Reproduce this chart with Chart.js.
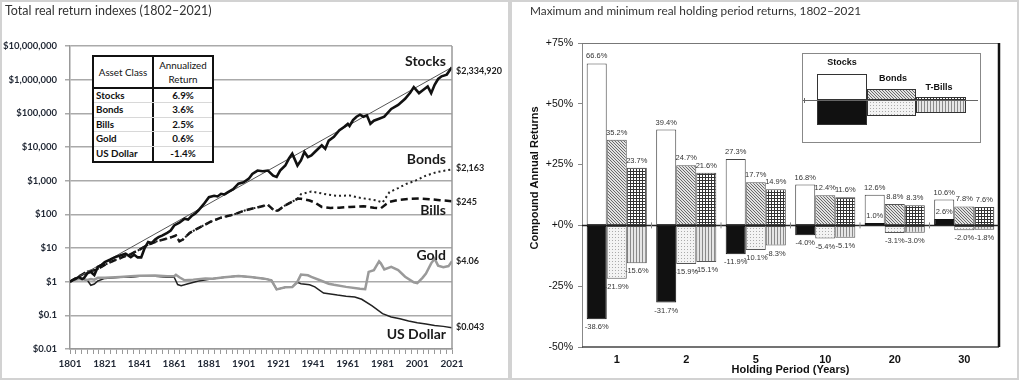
<!DOCTYPE html>
<html><head><meta charset="utf-8">
<script src="https://cdn.jsdelivr.net/npm/chart.js@4.4.1/dist/chart.umd.min.js"></script>
<style>
html,body{margin:0;padding:0;background:#fff;}
body{width:1019px;height:380px;position:relative;overflow:hidden;font-family:Lato,"Liberation Sans",sans-serif;}
.panel{position:absolute;top:0;height:380px;box-sizing:border-box;border:2px solid #d2d2d2;}
#p1{left:0;width:510px;}
#p2{left:510px;width:509px;}
canvas{position:absolute;top:0;}
#c1{left:0;}
#c2{left:510px;}
.title{position:absolute;top:3px;font-size:12.5px;color:#333;white-space:nowrap;}
#t1{left:5px;}
#t2{left:530px;font-size:11.8px;}
#tbl{position:absolute;left:92px;top:55px;width:122px;height:108px;box-sizing:border-box;border:2px solid #111;background:#fff;font-family:Lato,sans-serif;font-size:9.8px;color:#111;}
#tbl .row{display:flex;box-sizing:border-box;height:14.4px;border-bottom:1px solid #d8d8d8;}
#tbl .row:last-child{border-bottom:none;}
#tbl .hdr{height:32px;border-bottom:2px solid #111;}
#tbl .c1{width:60px;box-sizing:border-box;border-right:2px solid #111;padding-left:2px;font-weight:bold;line-height:13.4px;}
#tbl .c2{width:58px;text-align:center;font-weight:bold;line-height:13.4px;}
#tbl .hdr .c1,#tbl .hdr .c2{font-weight:normal;display:flex;align-items:center;justify-content:center;line-height:14px;padding:0;text-align:center;}
</style></head><body>
<div class="panel" id="p1"></div><div class="panel" id="p2"></div>
<canvas id="c1" width="510" height="380"></canvas>
<canvas id="c2" width="509" height="380"></canvas>
<div class="title" id="t1">Total real return indexes (1802–2021)</div>
<div class="title" id="t2">Maximum and minimum real holding period returns, 1802–2021</div>
<div id="tbl"></div>
<script>
// ---------------- Left chart data ----------------
const xTickLabels = ['1801','1821','1841','1861','1881','1901','1921','1941','1961','1981','2001','2021'];
const yTickValues = [0.01,0.1,1,10,100,1000,10000,100000,1000000,10000000];
const yTickLabels = ['$0.01','$0.1','$1','$10','$100','$1,000','$10,000','$100,000','$1,000,000','$10,000,000'];

const stockYears = [1801,1803,1804,1806,1808,1809,1811,1813,1815,1817,1819,1821,1824,1827,1830,1833,1836,1838,1840,1842,1844,1846,1848,1850,1852,1854,1857,1859,1861,1864,1867,1869,1871,1873,1875,1878,1881,1884,1886,1888,1890,1892,1895,1898,1901,1904,1906,1909,1912,1915,1918,1920,1922,1925,1927,1929,1932,1934,1936,1938,1940,1942,1946,1948,1950,1953,1956,1959,1961,1962,1964,1966,1968,1970,1972,1974,1976,1979,1982,1986,1990,1994,1997,1999,2002,2004,2007,2009,2011,2013,2015,2018,2020,2021];
const stockValues = [1,1.15,1.2,1.38,1.2,1.26,1.78,1.95,1.58,2.75,3.1,3.8,4.47,5.37,6.03,6.76,5.37,6.3,5.25,5.25,10,15.1,14,17.8,21,23.4,28.2,33,46.8,56.2,74.1,70,89.1,105,132,200,324,355,340,407,390,457,562,813,891,1148,1585,1995,1905,1995,1413,1288,1995,2818,4467,6310,2818,3981,7079,5012,5623,7079,11220,8913,15490,19950,30900,39810,48980,42000,63100,79430,91200,79430,87100,48980,60260,69180,79430,134900,177800,269200,416900,602600,398100,478600,631000,398100,707900,1047000,1259000,1413000,1995000,2334920];

const trendYears = [1801,2021];
const trendValues = [1,2334920];

const bondYears = [1801,1806,1811,1816,1821,1826,1831,1836,1841,1846,1851,1857,1862,1864,1866,1870,1876,1882,1888,1895,1902,1910,1915,1919,1921,1925,1932,1934,1940,1946,1950,1955,1962,1967,1972,1977,1981,1985,1990,1995,2000,2006,2012,2017,2021];
const bondValues = [1,1.41,2.0,2.24,3.16,4.17,5.25,6.61,8.91,12.6,15.8,19.1,23.4,15.8,17.8,28.2,41.7,60.3,79.4,97.7,132,166,191,123,132,186,288,398,479,417,380,355,363,316,288,263,224,457,603,813,1000,1413,1778,1995,2163];

const billYears = [1801,1806,1811,1816,1821,1826,1831,1836,1841,1846,1851,1857,1862,1864,1866,1870,1876,1882,1888,1895,1902,1910,1915,1919,1921,1925,1932,1934,1939,1942,1946,1951,1956,1962,1970,1976,1980,1983,1985,1990,1997,2002,2008,2014,2021];
const billValues = [1,1.41,2.0,2.24,3.16,4.17,5.25,6.61,8.91,12.6,15.8,19.1,23.4,15.8,17.8,28.2,41.7,60.3,79.4,97.7,132,166,191,123,132,186,288,288,257,224,166,155,158,166,174,158,151,200,234,269,288,295,282,263,245];

const goldYears = [1801,1804,1808,1811,1813,1815,1817,1821,1830,1836,1841,1850,1857,1861,1862,1864,1867,1872,1879,1883,1890,1898,1905,1913,1917,1920,1925,1929,1932,1934,1938,1940,1945,1950,1953,1960,1968,1971,1973,1976,1979,1980,1982,1986,1990,1994,1999,2001,2004,2006,2009,2011,2013,2016,2019,2021];
const goldValues = [1,1.15,1.2,1.12,1.2,1.15,1.3,1.3,1.38,1.45,1.5,1.52,1.45,1.45,1.6,1.35,1.1,1.15,1.25,1.23,1.35,1.48,1.38,1.23,1.1,0.59,0.68,0.69,1.0,1.62,1.55,1.38,1.1,0.87,0.81,0.7,0.62,0.6,1.95,2.2,4.0,3.5,2.3,2.75,2.2,1.4,0.95,0.9,1.3,1.74,3.5,4.8,3.0,2.7,2.9,4.06];

const dollarYears = [1801,1804,1808,1811,1813,1815,1817,1821,1830,1836,1841,1850,1857,1861,1863,1865,1869,1875,1883,1890,1898,1905,1913,1917,1920,1925,1929,1932,1934,1939,1942,1947,1950,1955,1960,1965,1969,1975,1981,1986,1991,1996,2001,2006,2011,2016,2021];
const dollarValues = [1,1.15,1.2,1.1,0.78,0.85,1.05,1.25,1.35,1.35,1.45,1.45,1.35,1.35,0.82,0.76,0.87,1.05,1.23,1.35,1.48,1.38,1.23,1.1,0.59,0.68,0.69,0.95,0.87,0.81,0.7,0.46,0.44,0.4,0.37,0.35,0.3,0.19,0.112,0.089,0.079,0.068,0.06,0.055,0.05,0.047,0.043];

const seriesNames = ['Stocks','Bonds','Bills','Gold','US Dollar'];
const endValueLabels = ['$2,334,920','$2,163','$245','$4.06','$0.043'];

const assetNames = ['Stocks','Bonds','Bills','Gold','US Dollar'];
const assetReturns = ['6.9%','3.6%','2.5%','0.6%','-1.4%'];

// ---------------- Right chart data ----------------
const periods = ['1','2','5','10','20','30'];
const stocksMax = [66.6,39.4,27.3,16.8,12.6,10.6];
const stocksMin = [-38.6,-31.7,-11.9,-4.0,1.0,2.6];
const bondsMax = [35.2,24.7,17.7,12.4,8.8,7.8];
const bondsMin = [-21.9,-15.9,-10.1,-5.4,-3.1,-2.0];
const billsMax = [23.7,21.6,14.9,11.6,8.3,7.6];
const billsMin = [-15.6,-15.1,-8.3,-5.1,-3.0,-1.8];
const rightTickValues = [-50,-25,0,25,50,75];
const rightTickLabels = ['-50%','-25%','+0%','+25%','+50%','+75%'];

// ---------------- Table ----------------
(function(){
  const t = document.getElementById('tbl');
  let h = '<div class="row hdr"><div class="c1">Asset Class</div><div class="c2">Annualized<br>Return</div></div>';
  assetNames.forEach((n,i)=>{ h += '<div class="row"><div class="c1">'+n+'</div><div class="c2">'+assetReturns[i]+'</div></div>'; });
  t.innerHTML = h;
})();

const pts = (xs, ys) => xs.map((x,i)=>({x:x, y:ys[i]}));
const seriesData = [stockValues, bondValues, billValues, goldValues, dollarValues];

function hline(ctx,x1,y1,x2,y2){ctx.beginPath();ctx.moveTo(x1,y1);ctx.lineTo(x2,y2);ctx.stroke();}

const leftDecor = {
  id:'leftDecor',
  afterDraw(chart){
    const {ctx, chartArea:a, scales:{y}} = chart;
    ctx.save();
    ctx.strokeStyle='#999'; ctx.lineWidth=1.5;
    hline(ctx,a.right,a.top,a.right,a.bottom);
    const nameDy = [-6,-10,9.5,-5.5,7];
    const valDy = [3.5,-1.5,0.5,0,-1];
    ctx.textBaseline='middle';
    seriesNames.forEach((n,i)=>{
      const vals = seriesData[i];
      const py = y.getPixelForValue(vals[vals.length-1]);
      ctx.font='bold 14px Lato'; ctx.fillStyle='#1a1a1a'; ctx.textAlign='right';
      ctx.fillText(n, a.right-6, py+nameDy[i]);
      ctx.font='bold 9px Lato'; ctx.fillStyle='#222'; ctx.textAlign='left';
      ctx.fillText(endValueLabels[i], a.right+4, py+valDy[i]);
    });
    ctx.restore();
  }
};

new Chart(document.getElementById('c1'), {
  type:'line',
  data:{datasets:[
    {data:pts(stockYears,stockValues), borderColor:'#111', borderWidth:2.6},
    {data:pts(trendYears,trendValues), borderColor:'#555', borderWidth:1},
    {data:pts(bondYears,bondValues), borderColor:'#222', borderWidth:2, borderDash:[2,3]},
    {data:pts(billYears,billValues), borderColor:'#111', borderWidth:2.5, borderDash:[7,4]},
    {data:pts(goldYears,goldValues), borderColor:'#9a9a9a', borderWidth:2.5},
    {data:pts(dollarYears,dollarValues), borderColor:'#222', borderWidth:1.5}
  ]},
  options:{
    responsive:false, animation:false,
    elements:{point:{radius:0}, line:{tension:0}},
    layout:{padding:{left:0,top:46,right:58,bottom:0}},
    plugins:{legend:{display:false}, tooltip:{enabled:false}},
    scales:{
      x:{type:'linear', min:1801, max:2021,
        afterBuildTicks(s){
          const t=[]; const first=+xTickLabels[0];
          for(let i=0;i<(xTickLabels.length-1)*6+1;i++){ t.push({value:first+i*20/6}); }
          s.ticks=t;
        },
        ticks:{autoSkip:false, maxRotation:0, minRotation:0, callback:(v,i)=> i%6===0 ? xTickLabels[i/6] : '', font:{family:'Lato',size:10,weight:'bold'}, color:'#1f2633', padding:4},
        grid:{drawOnChartArea:false, tickLength:5, color:'#999', lineWidth:1},
        border:{color:'#999', width:1.5},
        afterFit(s){ s.height=31; }
      },
      y:{type:'logarithmic', min:0.01, max:1e7,
        afterBuildTicks(s){ s.ticks = yTickValues.map(v=>({value:v})); },
        ticks:{autoSkip:false, callback:(v,i)=>yTickLabels[i], font:{family:'Lato',size:9.5,weight:'bold'}, color:'#1f2633', padding:8},
        grid:{color:'#aaa', lineWidth:1.5, tickLength:5},
        border:{color:'#999', width:1.5},
        afterFit(s){ s.width=70; }
      }
    }
  },
  plugins:[leftDecor]
});

// ---------------- Right chart ----------------
Chart.defaults.font.family = '"Liberation Sans", Arial, sans-serif';
const c2 = document.getElementById('c2');
const ctx2 = c2.getContext('2d');
function pattern(size, painter){ const c=document.createElement('canvas'); c.width=size; c.height=size; const g=c.getContext('2d'); painter(g,size); return ctx2.createPattern(c,'repeat'); }
const patHatch = pattern(3,(g,s)=>{ g.fillStyle='#e2e2e2'; g.fillRect(0,0,s,s); g.fillStyle='#6a6a6a'; for(let i=0;i<s;i++) g.fillRect(i,i,1,1); });
const patDots = pattern(3,(g,s)=>{ g.fillStyle='#f3f3f3'; g.fillRect(0,0,s,s); g.fillStyle='#aaa'; g.fillRect(0,0,1,1); });
const patGrid = pattern(3,(g,s)=>{ g.fillStyle='#fff'; g.fillRect(0,0,s,s); g.fillStyle='#333'; g.fillRect(0,0,s,1); g.fillRect(0,0,1,s); });
const patVert = pattern(3,(g,s)=>{ g.fillStyle='#e6e6e6'; g.fillRect(0,0,s,s); g.fillStyle='#8a8a8a'; g.fillRect(0,0,1,s); });

const rightDecor = {
  id:'rightDecor',
  afterDatasetsDraw(chart){
    const {ctx, chartArea:a, scales:{x,y}} = chart;
    ctx.save();
    ctx.strokeStyle='#777'; ctx.lineWidth=1; hline(ctx,a.left,a.top+0.5,a.right,a.top+0.5);
    ctx.strokeStyle='#444'; ctx.lineWidth=1.5; hline(ctx,a.left,a.bottom,a.right,a.bottom);
    ctx.strokeStyle='#111'; ctx.lineWidth=2.5; hline(ctx,a.right,a.top,a.right,a.bottom);
    const y0 = y.getPixelForValue(0);
    ctx.strokeStyle='#222'; ctx.lineWidth=1.5; hline(ctx,a.left,y0,a.right,y0);
    const step = x.getPixelForValue(1)-x.getPixelForValue(0);
    ctx.strokeStyle='#888'; ctx.lineWidth=1;
    for(let i=0;i<periods.length-1;i++){ const bx=x.getPixelForValue(i)+step/2; hline(ctx,bx,y0-3,bx,y0+3); }
    // y axis title
    ctx.save();
    ctx.translate(24.5, 178); ctx.rotate(-Math.PI/2);
    ctx.font='bold 11px "Liberation Sans"'; ctx.fillStyle='#111'; ctx.textAlign='center'; ctx.textBaseline='middle';
    ctx.fillText('Compound Annual Returns', 0, 0);
    ctx.restore();
    // value labels
    ctx.font='7.5px "Liberation Sans"'; ctx.fillStyle='#333'; ctx.textAlign='center'; ctx.textBaseline='middle';
    chart.data.datasets.forEach((ds,di)=>{
      const meta = chart.getDatasetMeta(di);
      meta.data.forEach((el,i)=>{
        const v = ds.data[i];
        const ty = v>=0 ? el.y-7 : el.y+8;
        ctx.fillText(v.toFixed(1)+'%', el.x, ty);
      });
    });
    // legend box
    const bx=a.left+220, by=a.top+10, bw=178, bh=89;
    ctx.fillStyle='#fff'; ctx.fillRect(bx,by,bw,bh);
    ctx.strokeStyle='#888'; ctx.lineWidth=1; ctx.strokeRect(bx+0.5,by+0.5,bw,bh);
    const ly = by+47;
    function box(x0,y0,w,h,fill){ ctx.fillStyle=fill; ctx.fillRect(x0,y0,w,h); ctx.strokeStyle='#333'; ctx.lineWidth=1; ctx.strokeRect(x0+0.5,y0+0.5,w-1,h-1); }
    box(bx+15, ly-26, 50, 26, '#fff');
    box(bx+15, ly, 50, 25, '#111');
    box(bx+65, ly-11, 49, 11, patHatch);
    box(bx+65, ly, 49, 16, patDots);
    box(bx+114, ly-3, 50, 3, patGrid);
    box(bx+114, ly, 50, 13, patVert);
    ctx.strokeStyle='#666'; ctx.lineWidth=1;
    hline(ctx,bx+1,ly+0.5,bx+bw-2,ly+0.5);
    hline(ctx,bx+2.5,ly-2,bx+2.5,ly+3);
    ctx.font='bold 9px "Liberation Sans"'; ctx.fillStyle='#111'; ctx.textAlign='center'; ctx.textBaseline='middle';
    ctx.fillText('Stocks', bx+40, by+10);
    ctx.fillText('Bonds', bx+91, by+26);
    ctx.fillText('T-Bills', bx+137, by+34.5);
    ctx.restore();
  }
};

const barCommon = {categoryPercentage:0.865, barPercentage:1, borderWidth:1, borderSkipped:false};
new Chart(c2, {
  type:'bar',
  data:{labels:periods, datasets:[
    Object.assign({label:'Stocks min', data:stocksMin, stack:'s', backgroundColor:'#111', borderColor:'#111'}, barCommon),
    Object.assign({label:'Stocks max', data:stocksMax, stack:'s', backgroundColor:'#fff', borderColor:'#444'}, barCommon),
    Object.assign({label:'Bonds max', data:bondsMax, stack:'b', backgroundColor:patHatch, borderColor:'#555'}, barCommon),
    Object.assign({label:'Bonds min', data:bondsMin, stack:'b', backgroundColor:patDots, borderColor:'#555'}, barCommon),
    Object.assign({label:'Bills max', data:billsMax, stack:'t', backgroundColor:patGrid, borderColor:'#444'}, barCommon),
    Object.assign({label:'Bills min', data:billsMin, stack:'t', backgroundColor:patVert, borderColor:'#555'}, barCommon)
  ]},
  options:{
    responsive:false, animation:false,
    layout:{padding:{left:0,right:20,top:43,bottom:0}},
    plugins:{legend:{display:false}, tooltip:{enabled:false}},
    scales:{
      x:{grid:{display:false, drawTicks:false}, border:{display:false},
        ticks:{font:{size:11,weight:'bold'}, color:'#111', padding:6},
        title:{display:true, text:'Holding Period (Years)', font:{size:11,weight:'bold'}, color:'#111', padding:{top:0,bottom:3}},
        afterFit(s){ s.height=33; }
      },
      y:{stacked:false, min:-50, max:75,
        afterBuildTicks(s){ s.ticks = rightTickValues.map(v=>({value:v})); },
        ticks:{callback:(v,i)=>rightTickLabels[i], font:{size:10.5}, color:'#111', padding:5},
        grid:{drawOnChartArea:false, tickLength:4, color:'#888'},
        border:{color:'#888', width:1},
        afterFit(s){ s.width=72; }
      }
    }
  },
  plugins:[rightDecor]
});
</script>
</body></html>
